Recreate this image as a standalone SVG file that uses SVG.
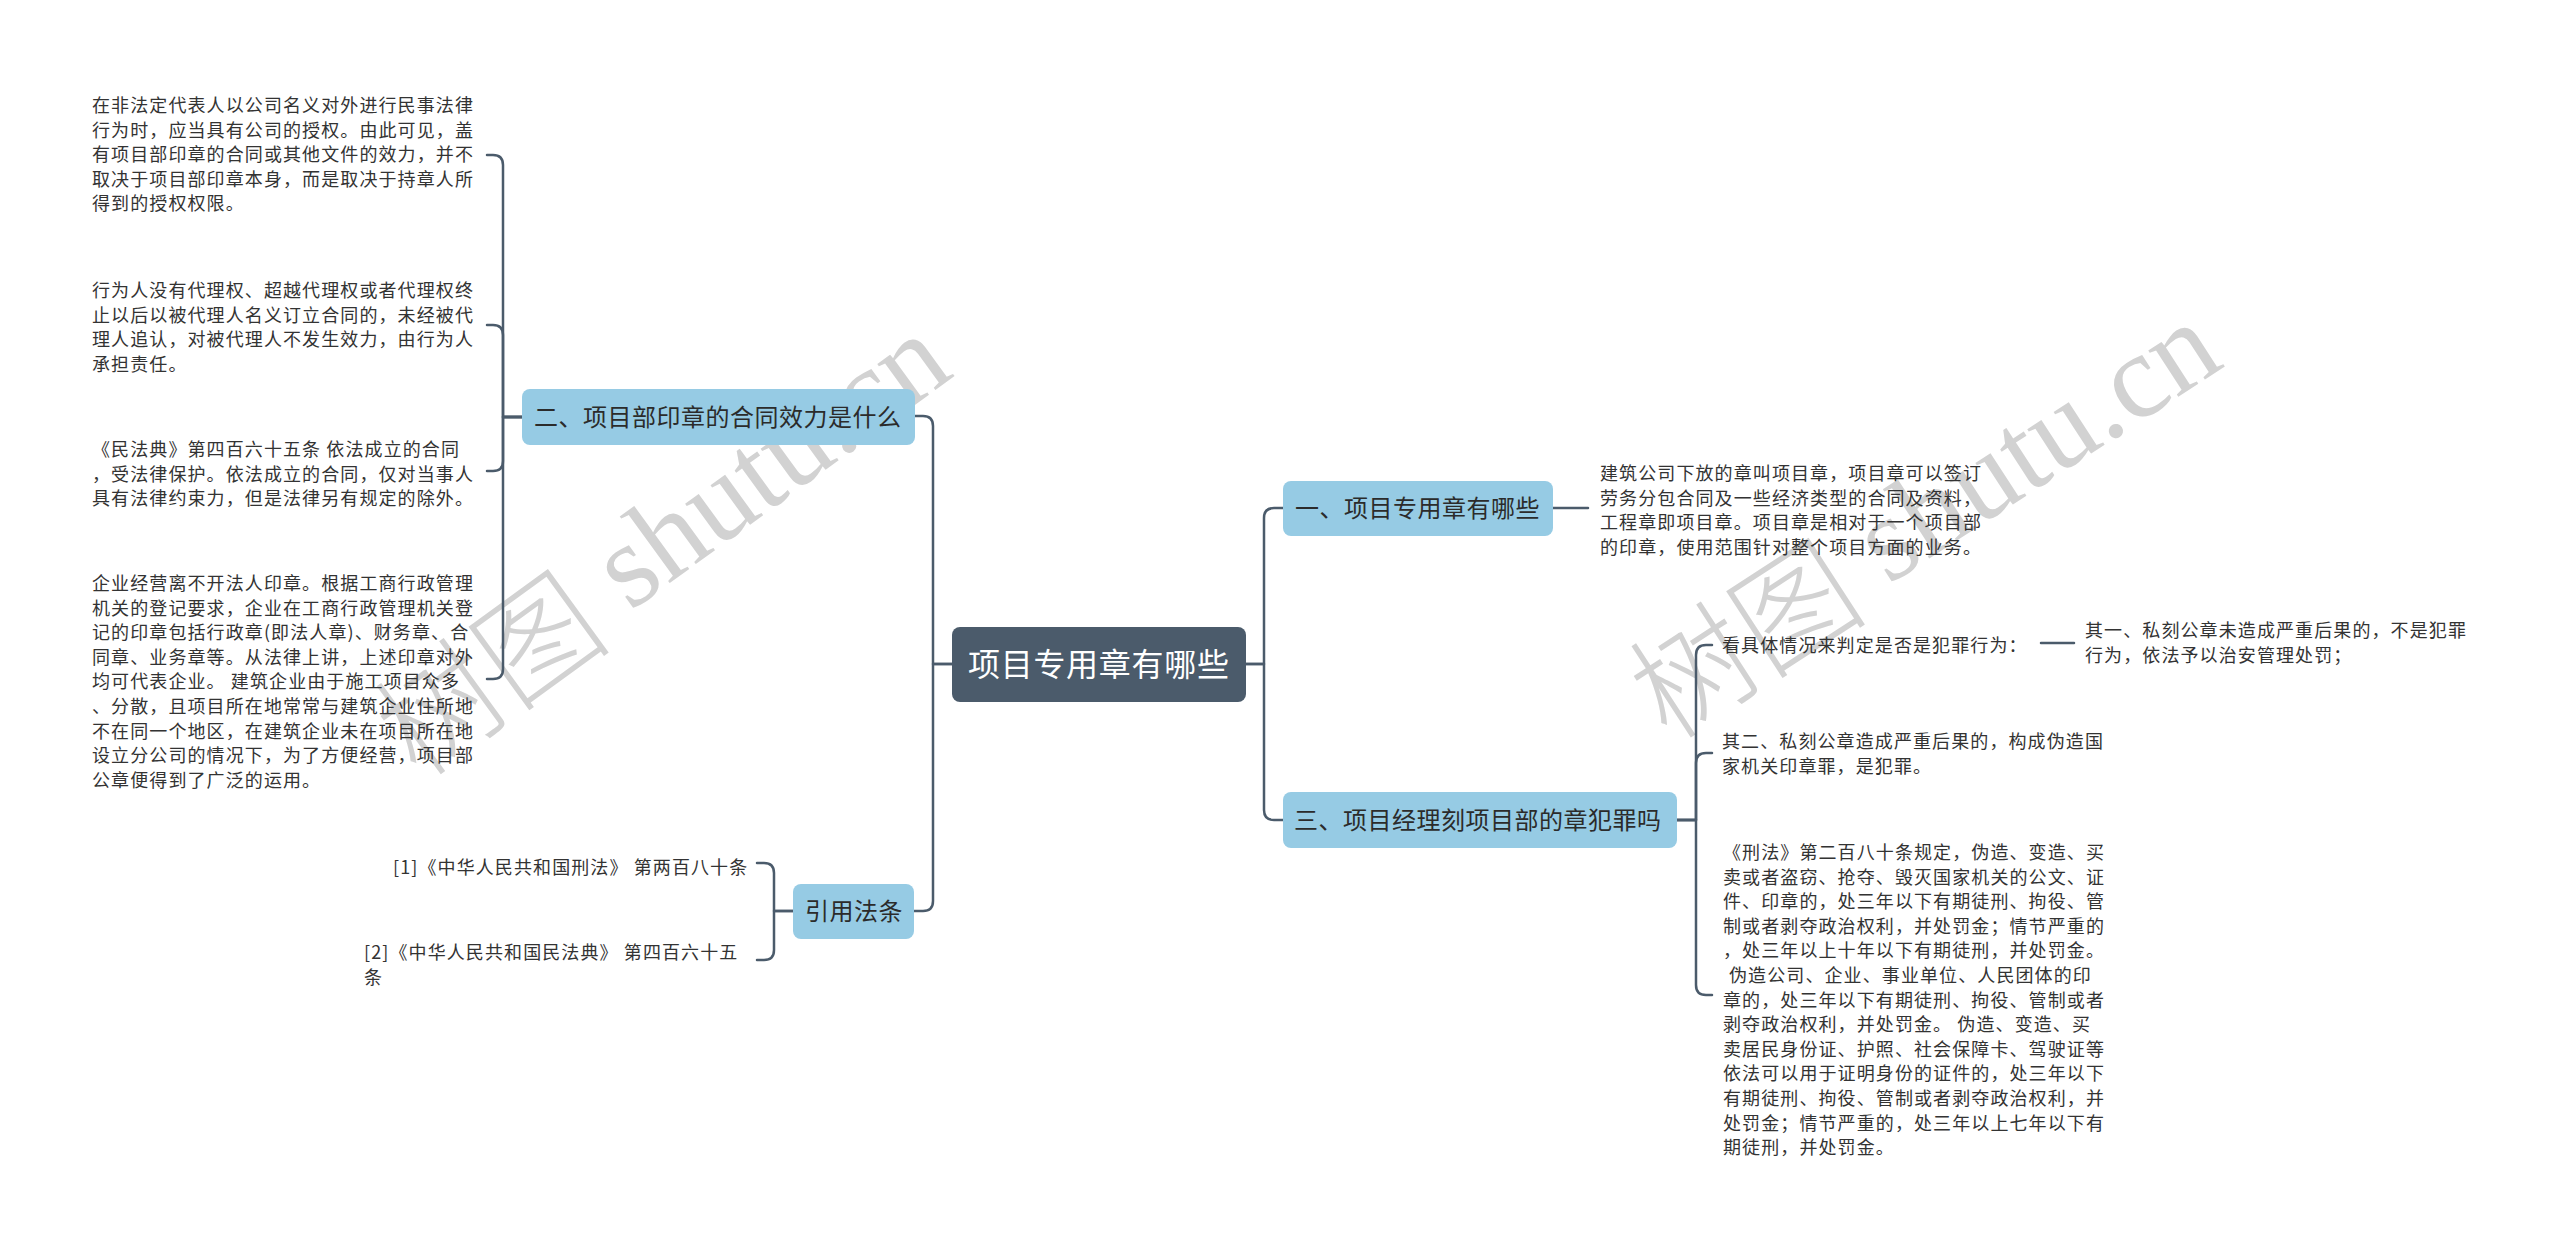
<svg xmlns="http://www.w3.org/2000/svg" width="2560" height="1250" viewBox="0 0 2560 1250">
<style>
.bg{fill:#ffffff}
.wm{font-family:"Liberation Serif","Noto Sans CJK SC",serif;font-size:120px;fill:#d2d2d2}
.wmc{font-family:"Noto Sans CJK SC",sans-serif;font-weight:300}
.t{font-family:"Noto Sans CJK SC","Microsoft YaHei",sans-serif;font-size:18px;letter-spacing:1.1px;fill:#333333}
.bt{font-family:"Noto Sans CJK SC","Microsoft YaHei",sans-serif;font-size:24px;letter-spacing:0.5px;fill:#2b2b2b}
.ct{font-family:"Noto Sans CJK SC","Microsoft YaHei",sans-serif;font-size:32px;letter-spacing:0.7px;fill:#ffffff}
.box{fill:#96cbe4}
.cbox{fill:#4b5b6b}
.c{fill:none;stroke:#4b5b6b;stroke-width:2.5;stroke-linecap:round;stroke-linejoin:round}
</style>
<rect class="bg" x="0" y="0" width="2560" height="1250"/>
<g id="watermarks">
<text class="wm" transform="translate(660,540) rotate(-36)" text-anchor="middle" dominant-baseline="central"><tspan class="wmc">树图</tspan> shutu.cn</text>
<text class="wm" transform="translate(1922,515) rotate(-33)" text-anchor="middle" dominant-baseline="central"><tspan class="wmc">树图</tspan> shutu.cn</text>
</g>
<g id="connectors">
<path class="c" d="M952,664 H933 V426 Q933,416 923,416 H914"/>
<path class="c" d="M952,664 H933 V901 Q933,911 923,911 H914"/>
<path class="c" d="M1246,664 H1264 V518 Q1264,508 1274,508 H1283"/>
<path class="c" d="M1246,664 H1264 V810 Q1264,820 1274,820 H1283"/>
<path class="c" d="M1553,508 H1588"/>
<path class="c" d="M1677,820 H1696 V655 Q1696,645 1706,645 H1712"/>
<path class="c" d="M1677,820 H1696 V763 Q1696,753 1706,753 H1712"/>
<path class="c" d="M1677,820 H1696 V985 Q1696,995 1706,995 H1712"/>
<path class="c" d="M2041,643 H2074"/>
<path class="c" d="M522,417 H503 V165 Q503,155 493,155 H487"/>
<path class="c" d="M522,417 H503 V335 Q503,325 493,325 H487"/>
<path class="c" d="M522,417 H503 V461 Q503,471 493,471 H487"/>
<path class="c" d="M522,417 H503 V669 Q503,679 493,679 H487"/>
<path class="c" d="M793,911 H774 V873 Q774,863 764,863 H757"/>
<path class="c" d="M793,911 H774 V950 Q774,960 764,960 H757"/>
</g>
<g id="root">
<rect class="cbox" x="952" y="627" width="294" height="75" rx="8"/>
<text class="ct" x="968" y="676">项目专用章有哪些</text>
</g>
<g id="b1">
<rect class="box" x="1283" y="481" width="270" height="55" rx="8"/>
<text class="bt" x="1295" y="517">一、项目专用章有哪些</text>
</g>
<g id="b1-1">
<text class="t" x="1600" y="480"><tspan x="1600">建筑公司下放的章叫项目章，项目章可以签订</tspan><tspan x="1600" dy="24.6">劳务分包合同及一些经济类型的合同及资料，</tspan><tspan x="1600" dy="24.6">工程章即项目章。项目章是相对于一个项目部</tspan><tspan x="1600" dy="24.6">的印章，使用范围针对整个项目方面的业务。</tspan></text>
</g>
<g id="b3">
<rect class="box" x="1283" y="792" width="394" height="56" rx="8"/>
<text class="bt" x="1294" y="829">三、项目经理刻项目部的章犯罪吗</text>
</g>
<g id="b3-1">
<text class="t" x="1722" y="652">看具体情况来判定是否是犯罪行为：</text>
</g>
<g id="b3-1-1">
<text class="t" x="2085" y="637"><tspan x="2085">其一、私刻公章未造成严重后果的，不是犯罪</tspan><tspan x="2085" dy="25">行为，依法予以治安管理处罚；</tspan></text>
</g>
<g id="b3-2">
<text class="t" x="1722" y="748"><tspan x="1722">其二、私刻公章造成严重后果的，构成伪造国</tspan><tspan x="1722" dy="25">家机关印章罪，是犯罪。</tspan></text>
</g>
<g id="b3-3">
<text class="t" x="1723" y="859"><tspan x="1723">《刑法》第二百八十条规定，伪造、变造、买</tspan><tspan x="1723" dy="24.6">卖或者盗窃、抢夺、毁灭国家机关的公文、证</tspan><tspan x="1723" dy="24.6">件、印章的，处三年以下有期徒刑、拘役、管</tspan><tspan x="1723" dy="24.6">制或者剥夺政治权利，并处罚金；情节严重的</tspan><tspan x="1723" dy="24.6">，处三年以上十年以下有期徒刑，并处罚金。</tspan><tspan x="1729" dy="24.6">伪造公司、企业、事业单位、人民团体的印</tspan><tspan x="1723" dy="24.6">章的，处三年以下有期徒刑、拘役、管制或者</tspan><tspan x="1723" dy="24.6">剥夺政治权利，并处罚金。 伪造、变造、买</tspan><tspan x="1723" dy="24.6">卖居民身份证、护照、社会保障卡、驾驶证等</tspan><tspan x="1723" dy="24.6">依法可以用于证明身份的证件的，处三年以下</tspan><tspan x="1723" dy="24.6">有期徒刑、拘役、管制或者剥夺政治权利，并</tspan><tspan x="1723" dy="24.6">处罚金；情节严重的，处三年以上七年以下有</tspan><tspan x="1723" dy="24.6">期徒刑，并处罚金。</tspan></text>
</g>
<g id="b2">
<rect class="box" x="522" y="389" width="393" height="56" rx="8"/>
<text class="bt" x="534" y="426">二、项目部印章的合同效力是什么</text>
</g>
<g id="b2-1">
<text class="t" x="92" y="112"><tspan x="92">在非法定代表人以公司名义对外进行民事法律</tspan><tspan x="92" dy="24.6">行为时，应当具有公司的授权。由此可见，盖</tspan><tspan x="92" dy="24.6">有项目部印章的合同或其他文件的效力，并不</tspan><tspan x="92" dy="24.6">取决于项目部印章本身，而是取决于持章人所</tspan><tspan x="92" dy="24.6">得到的授权权限。</tspan></text>
</g>
<g id="b2-2">
<text class="t" x="92" y="297"><tspan x="92">行为人没有代理权、超越代理权或者代理权终</tspan><tspan x="92" dy="24.6">止以后以被代理人名义订立合同的，未经被代</tspan><tspan x="92" dy="24.6">理人追认，对被代理人不发生效力，由行为人</tspan><tspan x="92" dy="24.6">承担责任。</tspan></text>
</g>
<g id="b2-3">
<text class="t" x="92" y="456"><tspan x="92">《民法典》第四百六十五条 依法成立的合同</tspan><tspan x="92" dy="24.6">，受法律保护。依法成立的合同，仅对当事人</tspan><tspan x="92" dy="24.6">具有法律约束力，但是法律另有规定的除外。</tspan></text>
</g>
<g id="b2-4">
<text class="t" x="92" y="590"><tspan x="92">企业经营离不开法人印章。根据工商行政管理</tspan><tspan x="92" dy="24.6">机关的登记要求，企业在工商行政管理机关登</tspan><tspan x="92" dy="24.6">记的印章包括行政章(即法人章)、财务章、合</tspan><tspan x="92" dy="24.6">同章、业务章等。从法律上讲，上述印章对外</tspan><tspan x="92" dy="24.6">均可代表企业。 建筑企业由于施工项目众多</tspan><tspan x="92" dy="24.6">、分散，且项目所在地常常与建筑企业住所地</tspan><tspan x="92" dy="24.6">不在同一个地区，在建筑企业未在项目所在地</tspan><tspan x="92" dy="24.6">设立分公司的情况下，为了方便经营，项目部</tspan><tspan x="92" dy="24.6">公章便得到了广泛的运用。</tspan></text>
</g>
<g id="b4">
<rect class="box" x="793" y="884" width="121" height="55" rx="8"/>
<text class="bt" x="805" y="920">引用法条</text>
</g>
<g id="b4-1">
<text class="t" x="393" y="874">[1]《中华人民共和国刑法》 第两百八十条</text>
</g>
<g id="b4-2">
<text class="t" x="364" y="959"><tspan x="364">[2]《中华人民共和国民法典》 第四百六十五</tspan><tspan x="364" dy="24.6">条</tspan></text>
</g>
</svg>
